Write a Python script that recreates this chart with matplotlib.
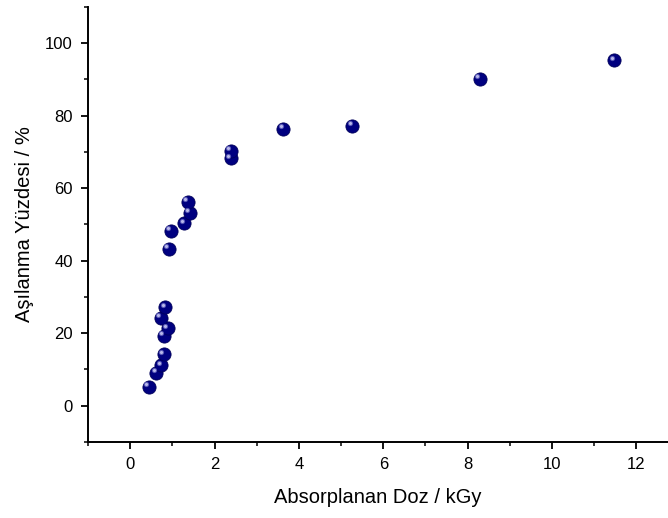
import matplotlib
matplotlib.use("Agg")
import matplotlib.pyplot as plt
import matplotlib.transforms as mtransforms
from matplotlib.ticker import MultipleLocator

plt.rcParams['font.family'] = ['Liberation Sans', 'DejaVu Sans']

# Absorbed dose (kGy) vs grafting percentage (%)
doz = [0.44, 0.62, 0.74, 0.80, 0.80, 0.89, 0.73, 0.83,
       0.91, 0.96, 1.28, 1.41, 1.37, 2.39, 2.39, 3.63, 5.26, 8.29, 11.48]
asilanma = [5.2, 9.1, 11.2, 14.2, 19.3, 21.3, 24.2, 27.2,
            43.3, 48.2, 50.3, 53.2, 56.3, 68.2, 70.3, 76.3, 77.2, 90.2, 95.2]

fig = plt.figure(figsize=(6.68, 5.18), dpi=100)
ax = fig.add_axes([0.1317, 0.1467, 0.8683, 0.8403])

# navy sphere with a soft highlight
ax.scatter(doz, asilanma, s=90, color='#000080', edgecolors='#00005a',
           linewidths=0.6, zorder=3)
shift = mtransforms.ScaledTranslation(-1.8 / 72, 1.8 / 72, fig.dpi_scale_trans)
ax.scatter(doz, asilanma, s=14, color='#5a5ab8', linewidths=0,
           transform=ax.transData + shift, zorder=4)
ax.scatter(doz, asilanma, s=5, color='#b8b8ea', linewidths=0,
           transform=ax.transData + shift, zorder=5)

ax.set_xlim(-1, 12.75)
ax.set_ylim(-10, 110)
ax.xaxis.set_minor_locator(MultipleLocator(1))
ax.yaxis.set_minor_locator(MultipleLocator(10))
ax.set_xticks([0, 2, 4, 6, 8, 10, 12])
ax.set_yticks([0, 20, 40, 60, 80, 100])

ax.spines['top'].set_visible(False)
ax.spines['right'].set_visible(False)
ax.spines['left'].set_linewidth(1.4)
ax.spines['bottom'].set_linewidth(1.4)
ax.tick_params(which='major', direction='out', length=5, width=1.3,
               labelsize=12, pad=6)
ax.tick_params(which='minor', direction='out', length=3, width=1.1)

ax.set_xlabel('Absorplanan Doz / kGy', fontsize=14.5, labelpad=11)
ax.set_ylabel('Aşılanma Yüzdesi / %', fontsize=14.5, labelpad=8)

fig.savefig('out.png', dpi=100)
